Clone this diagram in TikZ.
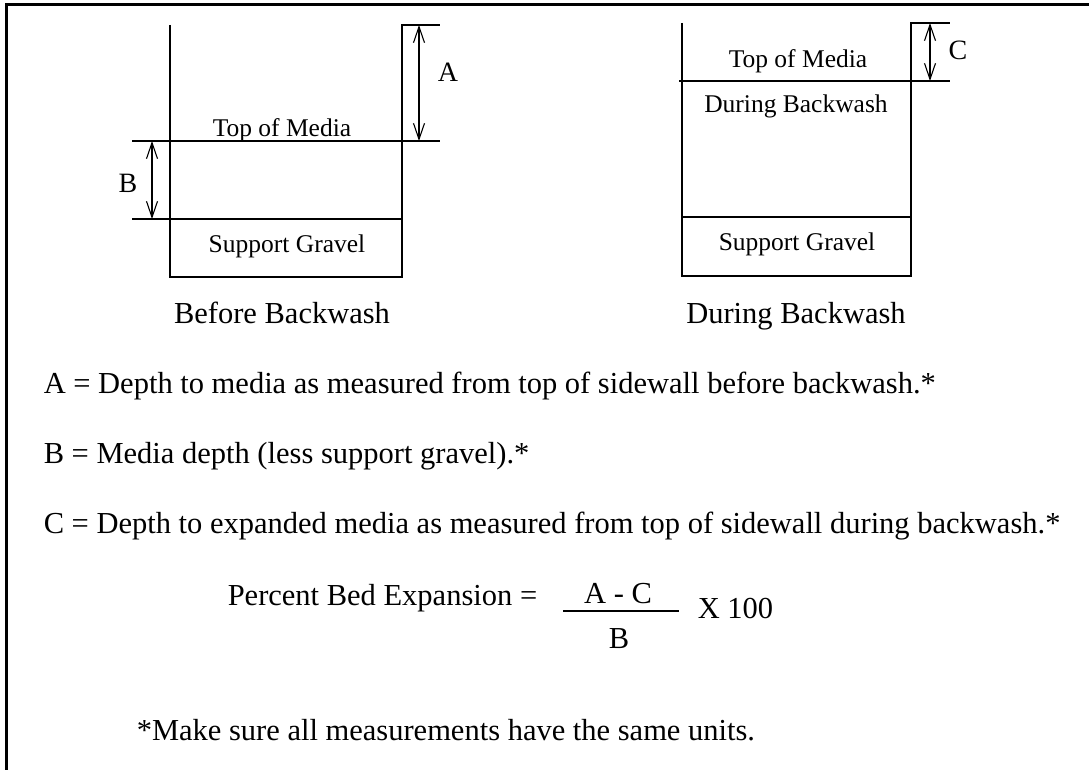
\documentclass[tikz,border=0pt]{standalone}
\usepackage{fontspec}
\setmainfont{Liberation Serif}
\usetikzlibrary{arrows.meta}
\tikzset{
  dim/.style={{Straight Barb[length=16pt,width=11pt]}-{Straight Barb[length=16pt,width=11pt]},line width=1.1pt},
  lbl/.style={font=\fontsize{25.5}{30}\selectfont,inner sep=0pt,anchor=base},
  letter/.style={font=\fontsize{28}{32}\selectfont,inner sep=0pt,anchor=base},
  captxt/.style={font=\fontsize{30.5}{36}\selectfont,inner sep=0pt,anchor=base},
  txt/.style={font=\fontsize{30.5}{36}\selectfont,inner sep=0pt,anchor=base west},
}
\begin{document}
\begin{tikzpicture}[x=1pt,y=-1pt,line width=1.5pt]
\useasboundingbox (0,0) rectangle (1089,770);
\draw[line width=3pt] (6,770)--(6,5)--(1089,5);
\draw (170,25)--(170,277)--(402,277)--(402,25)--(440,25)
	(132,141)--(440,141)
	(132,219)--(402,219);
\draw (682,23)--(682,276)--(911,276)--(911,23)--(950,23)
	(679,81)--(950,81)
	(682,217)--(911,217);
\coordinate (atop) at (419,25);
\coordinate (abot) at (419,141);
\coordinate (btop) at (152,141);
\coordinate (bbot) at (152,219);
\coordinate (ctop) at (930,23);
\coordinate (cbot) at (930,81);
\draw[dim] (atop)--(abot);
\draw[dim] (btop)--(bbot);
\draw[dim] (ctop)--(cbot);
\foreach \n/\x/\y/\texn in {la/448/82/A,lb/128/193/B,lc/958/60/C}
	\path (\x,\y) node[letter](\n){\texn};
\foreach \n/\x/\y/\texn in {mtop/282/137/Top of Media,mgrav/287/252/Support Gravel,
	ntop/798/68/Top of Media,nbw/796/113/During Backwash,ngrav/797/250/Support Gravel}
	\path (\x,\y) node[lbl](\n){\texn};
\path (282,323) node[captxt](before){Before Backwash}
	(796,323) node[captxt](during){During Backwash};
\foreach \n/\y/\texn in {defa/393/A = Depth to media as measured from top of sidewall before backwash.*,
	defb/463/B = Media depth (less support gravel).*,
	defc/533/C = Depth to expanded media as measured from top of sidewall during backwash.*}
	\path (43,\y) node[txt](\n){\texn};
\path (227,605) node[txt](pbe){Percent Bed Expansion =}
	(618,603) node[captxt](num){A - C}
	(619,648) node[captxt](den){B}
	(697,618) node[txt](times){X 100}
	(136,740) node[txt](note){*Make sure all measurements have the same units.};
\draw (563,611)--(679,611);
\end{tikzpicture}
\end{document}
